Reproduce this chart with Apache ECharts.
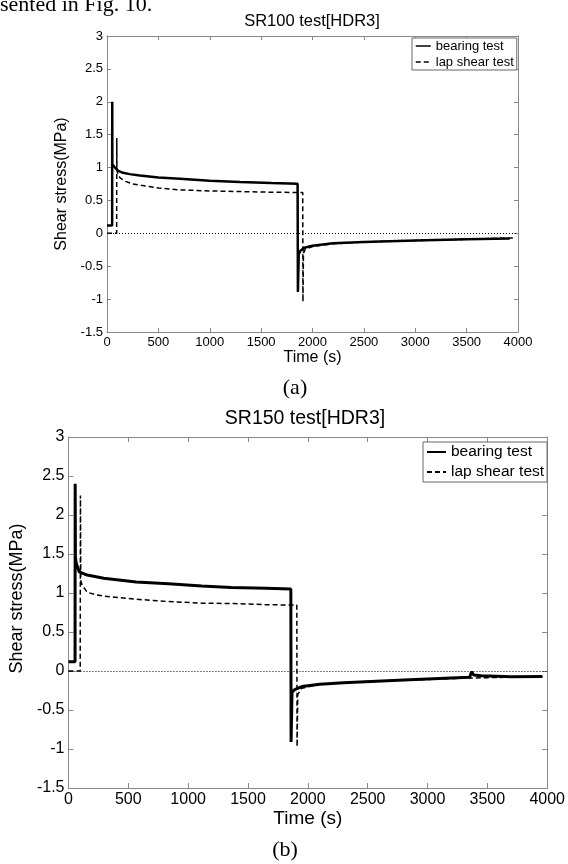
<!DOCTYPE html>
<html>
<head>
<meta charset="utf-8">
<script src="https://cdn.jsdelivr.net/npm/echarts@6/dist/echarts.min.js"></script>
<style>
  html, body { margin: 0; padding: 0; background: #fff; }
  #chart { width: 568px; height: 864px; }
</style>
</head>
<body>
<div id="chart"></div>
<script>
// [time (s), shear stress (MPa)]
var sr100Bearing = [
  [0, 0.12], [50, 0.12], [51, 2.0], [52, 1.05], [60, 1.02], [78, 1.0], [110, 0.95],
  [156, 0.92], [220, 0.9], [321, 0.88], [500, 0.85], [710, 0.83], [1000, 0.8],
  [1294, 0.78], [1600, 0.765], [1855, 0.755], [1858, -0.89], [1866, -0.32],
  [1880, -0.27], [1920, -0.22], [2000, -0.19], [2200, -0.15], [2500, -0.13],
  [3000, -0.11], [3500, -0.09], [3920, -0.08]
];
var sr100Lap = [
  [0, 0], [94, 0], [95, 1.45], [97, 0.95], [110, 0.88], [130, 0.84], [180, 0.79],
  [250, 0.75], [330, 0.73], [500, 0.69], [710, 0.66], [1000, 0.645], [1300, 0.635],
  [1600, 0.625], [1905, 0.62], [1907, -1.04], [1912, -0.3], [1930, -0.24],
  [2000, -0.2], [2200, -0.16], [2500, -0.13], [3000, -0.11], [3500, -0.09], [3950, -0.07]
];
var sr150Bearing = [
  [0, 0.12], [55, 0.12], [56, 2.4], [58, 1.46], [65, 1.38], [90, 1.27], [156, 1.23],
  [295, 1.19], [565, 1.14], [836, 1.12], [1114, 1.09], [1360, 1.07], [1650, 1.06],
  [1858, 1.05], [1860, -0.91], [1868, -0.27], [1890, -0.24], [1950, -0.2],
  [2100, -0.17], [2300, -0.15], [2754, -0.12], [3050, -0.1], [3352, -0.08],
  [3368, -0.01], [3385, -0.05], [3450, -0.06], [3700, -0.075], [3960, -0.07]
];
var sr150Lap = [
  [0, 0], [98, 0], [100, 2.25], [103, 1.15], [115, 1.1], [156, 1.01], [220, 0.98],
  [295, 0.96], [565, 0.92], [836, 0.89], [1114, 0.87], [1385, 0.865], [1650, 0.85],
  [1908, 0.845], [1910, -0.97], [1916, -0.3], [1950, -0.22], [2100, -0.17],
  [2300, -0.15], [2754, -0.12], [3352, -0.09], [3700, -0.08], [3960, -0.07]
];
var legendNames = ['bearing test', 'lap shear test'];
var panelTitles = ['SR100 test[HDR3]', 'SR150 test[HDR3]'];

var sans = 'Liberation Sans, Arial, sans-serif';
var serif = 'Liberation Serif, Times New Roman, serif';
var axisGray = '#888';

function plain(v) { return String(v); }

function xAxes(grid, fs, tick, gap) {
  return [{
    type: 'value', gridIndex: grid, min: 0, max: 4000, interval: 500, position: 'bottom',
    name: 'Time (s)', nameLocation: 'middle', nameGap: gap,
    nameTextStyle: { fontSize: fs + 3, color: '#000', fontFamily: sans },
    axisLine: { show: true, onZero: false, lineStyle: { color: axisGray } },
    axisTick: { inside: true, length: tick, lineStyle: { color: axisGray } },
    axisLabel: { fontSize: fs, color: '#000', fontFamily: sans, margin: 4, formatter: plain },
    splitLine: { show: false }
  }, {
    type: 'value', gridIndex: grid, min: 0, max: 4000, interval: 500, position: 'top',
    axisLine: { show: true, onZero: false, lineStyle: { color: axisGray } },
    axisTick: { inside: true, length: tick, lineStyle: { color: axisGray } },
    axisLabel: { show: false }, splitLine: { show: false }
  }];
}

function yAxes(grid, fs, tick, gap, nfs, namePad) {
  return [{
    type: 'value', gridIndex: grid, min: -1.5, max: 3, interval: 0.5, position: 'left',
    name: 'Shear stress(MPa)', nameLocation: 'middle', nameGap: gap,
    nameTextStyle: { fontSize: nfs, color: '#000', fontFamily: sans, padding: namePad },
    axisLine: { show: true, onZero: false, lineStyle: { color: axisGray } },
    axisTick: { inside: true, length: tick, lineStyle: { color: axisGray } },
    axisLabel: { fontSize: fs, color: '#000', fontFamily: sans, margin: 4, formatter: plain },
    splitLine: { show: false }
  }, {
    type: 'value', gridIndex: grid, min: -1.5, max: 3, interval: 0.5, position: 'right',
    axisLine: { show: true, onZero: false, lineStyle: { color: axisGray } },
    axisTick: { inside: true, length: tick, lineStyle: { color: axisGray } },
    axisLabel: { show: false }, splitLine: { show: false }
  }];
}

function lineSeries(name, data, grid, width, dashed, zero) {
  var s = {
    name: name, type: 'line', data: data,
    xAxisIndex: grid * 2, yAxisIndex: grid * 2,
    symbol: 'none', showSymbol: false, animation: false,
    lineStyle: { color: '#000', width: width, type: dashed ? [5, 3] : 'solid' },
    itemStyle: { color: '#000' }
  };
  if (zero) {
    s.markLine = {
      silent: true, symbol: ['none', 'none'], label: { show: false },
      lineStyle: { color: '#000', width: 1, type: [1, 2] },
      data: [{ yAxis: 0 }]
    };
  }
  return s;
}

var chart = echarts.init(document.getElementById('chart'));
chart.setOption({
  backgroundColor: '#fff',
  animation: false,
  title: [
    { text: panelTitles[0], left: 312, top: 13, textAlign: 'center', padding: 0,
      textStyle: { fontSize: 16.5, fontWeight: 'normal', color: '#000', fontFamily: sans } },
    { text: panelTitles[1], left: 305, top: 409, textAlign: 'center', padding: 0,
      textStyle: { fontSize: 19.5, fontWeight: 'normal', color: '#000', fontFamily: sans } }
  ],
  legend: [
    { data: legendNames, orient: 'vertical', left: 412, top: 38,
      padding: [1.5, 3, 1.5, 3], itemGap: 3, itemWidth: 15, itemHeight: 14,
      borderColor: '#666', borderWidth: 1, backgroundColor: '#fff',
      itemStyle: { opacity: 0 }, lineStyle: { width: 1.5 },
      textStyle: { fontSize: 13, color: '#000', fontFamily: sans } },
    { data: legendNames, orient: 'vertical', left: 423, top: 442,
      padding: [2, 3, 2, 3], itemGap: 4, itemWidth: 19, itemHeight: 16,
      borderColor: '#666', borderWidth: 1, backgroundColor: '#fff',
      itemStyle: { opacity: 0 }, lineStyle: { width: 2 },
      textStyle: { fontSize: 15.5, color: '#000', fontFamily: sans } }
  ],
  grid: [
    { left: 107, top: 36, width: 411, height: 296 },
    { left: 61, top: 437, width: 488, height: 351 }
  ],
  xAxis: xAxes(0, 13, 4, 17).concat(xAxes(1, 16, 5, 19)),
  yAxis: yAxes(0, 13, 4, 24, 16, 0).concat(yAxes(1, 16, 5, 35, 18, [0, 0, 0, 28])),
  series: [
    lineSeries('bearing test', sr100Bearing, 0, 2.5, false, true),
    lineSeries('lap shear test', sr100Lap, 0, 1.5, true, false),
    lineSeries('bearing test', sr150Bearing, 1, 3, false, true),
    lineSeries('lap shear test', sr150Lap, 1, 1.5, true, false)
  ],
  graphic: [
    { type: 'text', left: 0, top: -6, silent: true,
      style: { text: 'sented in Fig. 10.', fontSize: 22, fontFamily: serif, fill: '#000' } },
    { type: 'text', x: 295, y: 388, silent: true,
      style: { text: '(a)', fontSize: 22, fontFamily: serif, fill: '#000', align: 'center', verticalAlign: 'middle' } },
    { type: 'text', x: 285, y: 850, silent: true,
      style: { text: '(b)', fontSize: 22, fontFamily: serif, fill: '#000', align: 'center', verticalAlign: 'middle' } }
  ]
});
</script>
</body>
</html>
